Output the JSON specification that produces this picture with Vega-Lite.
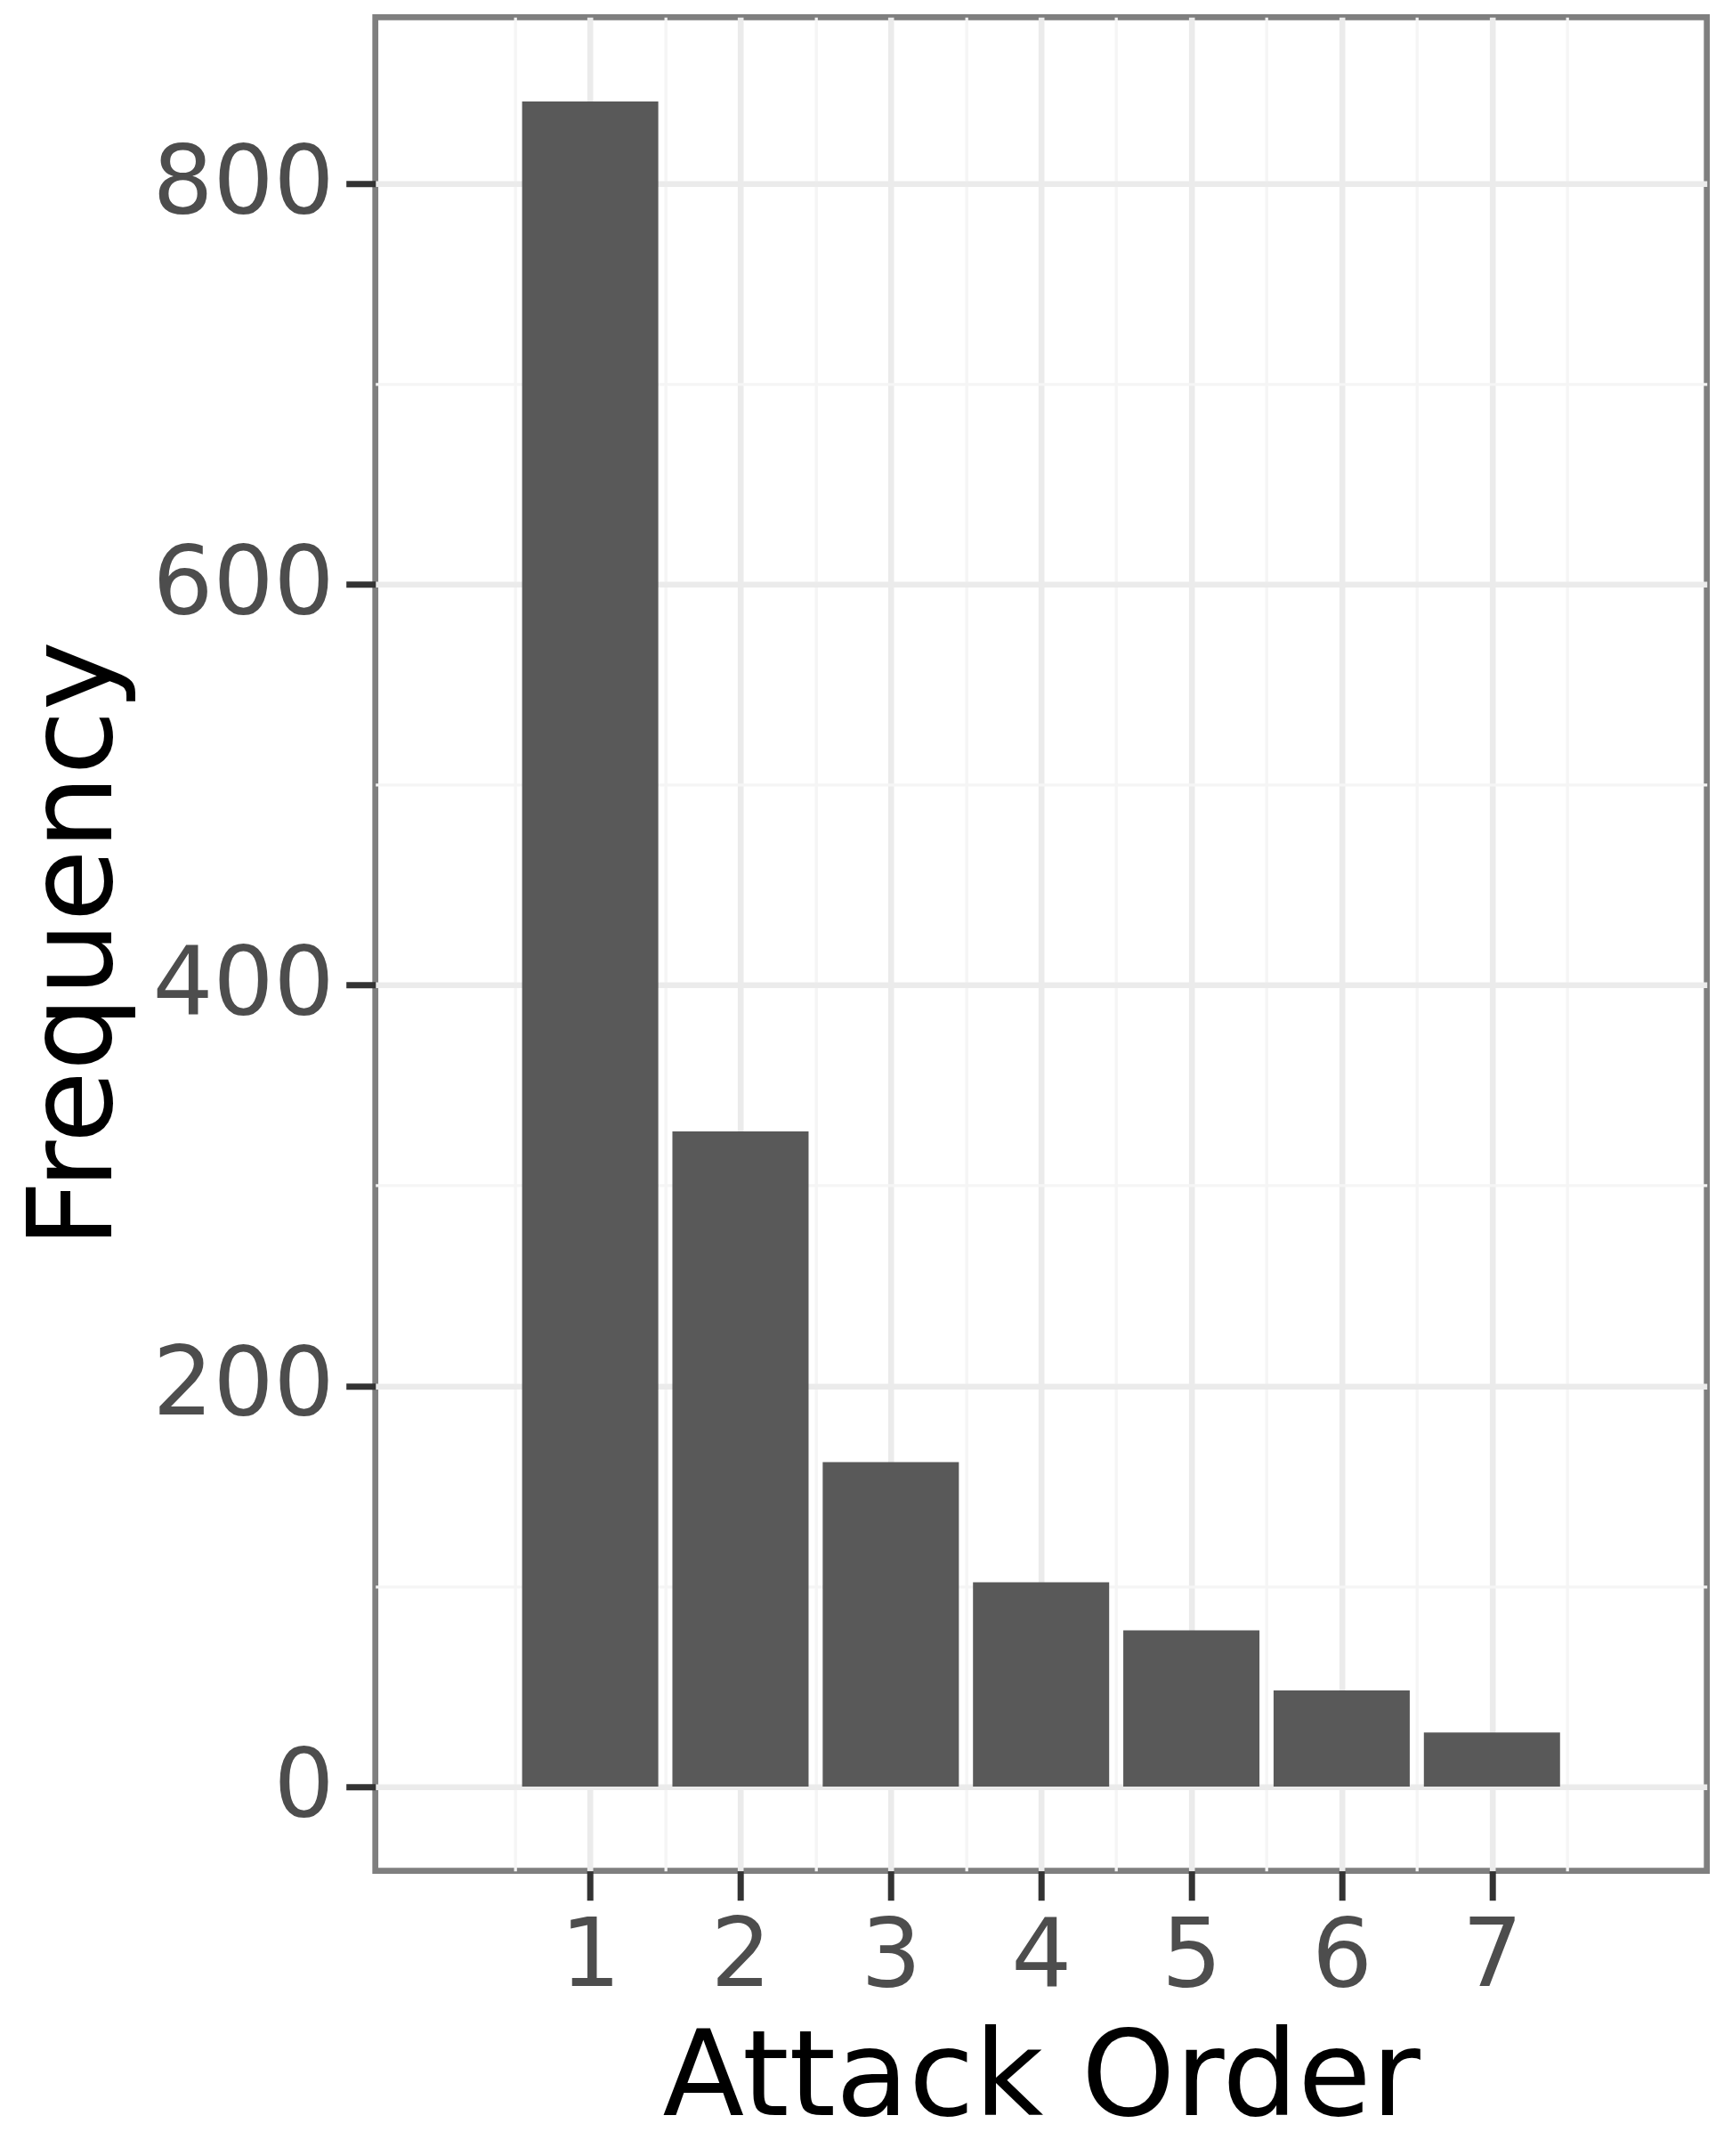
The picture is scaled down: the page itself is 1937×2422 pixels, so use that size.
{
  "$schema": "https://vega.github.io/schema/vega-lite/v6.json",
  "autosize": {"type": "none"},
  "padding": {"left": 421.7, "top": 19.3, "right": 19.3, "bottom": 320.3},
  "width": 1496,
  "height": 2082.4,
  "background": "white",
  "data": {
    "values": [
      {"order": 1, "frequency": 841},
      {"order": 2, "frequency": 327},
      {"order": 3, "frequency": 162},
      {"order": 4, "frequency": 102},
      {"order": 5, "frequency": 78},
      {"order": 6, "frequency": 48},
      {"order": 7, "frequency": 27}
    ]
  },
  "mark": {"type": "bar", "color": "#595959", "width": 153},
  "encoding": {
    "x": {
      "field": "order",
      "type": "quantitative",
      "title": "Attack Order",
      "scale": {"domain": [-0.4, 8.4], "nice": false, "zero": false},
      "axis": {
        "values": [0.5, 1, 1.5, 2, 2.5, 3, 3.5, 4, 4.5, 5, 5.5, 6, 6.5, 7, 7.5],
        "labelExpr": "datum.value % 1 === 0 ? '' + datum.value : ''",
        "gridColor": {"condition": {"test": "datum.value % 1 !== 0", "value": "#f5f5f5"}, "value": "#ebebeb"},
        "gridWidth": {"condition": {"test": "datum.value % 1 !== 0", "value": 3.3}, "value": 6.6},
        "tickColor": {"condition": {"test": "datum.value % 1 !== 0", "value": "rgba(0,0,0,0)"}, "value": "#333333"},
        "labelPadding": 10.5,
        "titleY": 274,
        "titleFontSize": 134,
        "titleBaseline": "alphabetic"
      }
    },
    "y": {
      "field": "frequency",
      "type": "quantitative",
      "title": "Frequency",
      "scale": {"domain": [-42.05, 883.05], "nice": false, "zero": false},
      "axis": {
        "values": [0, 100, 200, 300, 400, 500, 600, 700, 800],
        "labelExpr": "datum.value % 200 === 0 ? '' + datum.value : ''",
        "gridColor": {"condition": {"test": "datum.value % 200 !== 0", "value": "#f5f5f5"}, "value": "#ebebeb"},
        "gridWidth": {"condition": {"test": "datum.value % 200 !== 0", "value": 3.3}, "value": 6.6},
        "tickColor": {"condition": {"test": "datum.value % 200 !== 0", "value": "rgba(0,0,0,0)"}, "value": "#333333"},
        "labelPadding": 13.5,
        "titleX": -297,
        "titleFontSize": 132,
        "titleBaseline": "alphabetic"
      }
    }
  },
  "config": {
    "font": "DejaVu Sans",
    "view": {"stroke": "#7f7f7f", "strokeWidth": 6.7},
    "axis": {
      "domain": false,
      "grid": true,
      "tickSize": 33,
      "tickWidth": 7,
      "labelFont": "DejaVu Sans",
      "labelFontSize": 107,
      "labelColor": "#4d4d4d",
      "labelOverlap": false,
      "labelFlush": false,
      "labelLimit": 0,
      "titleFont": "DejaVu Sans",
      "titleFontWeight": "normal",
      "titleColor": "#000000"
    }
  }
}
